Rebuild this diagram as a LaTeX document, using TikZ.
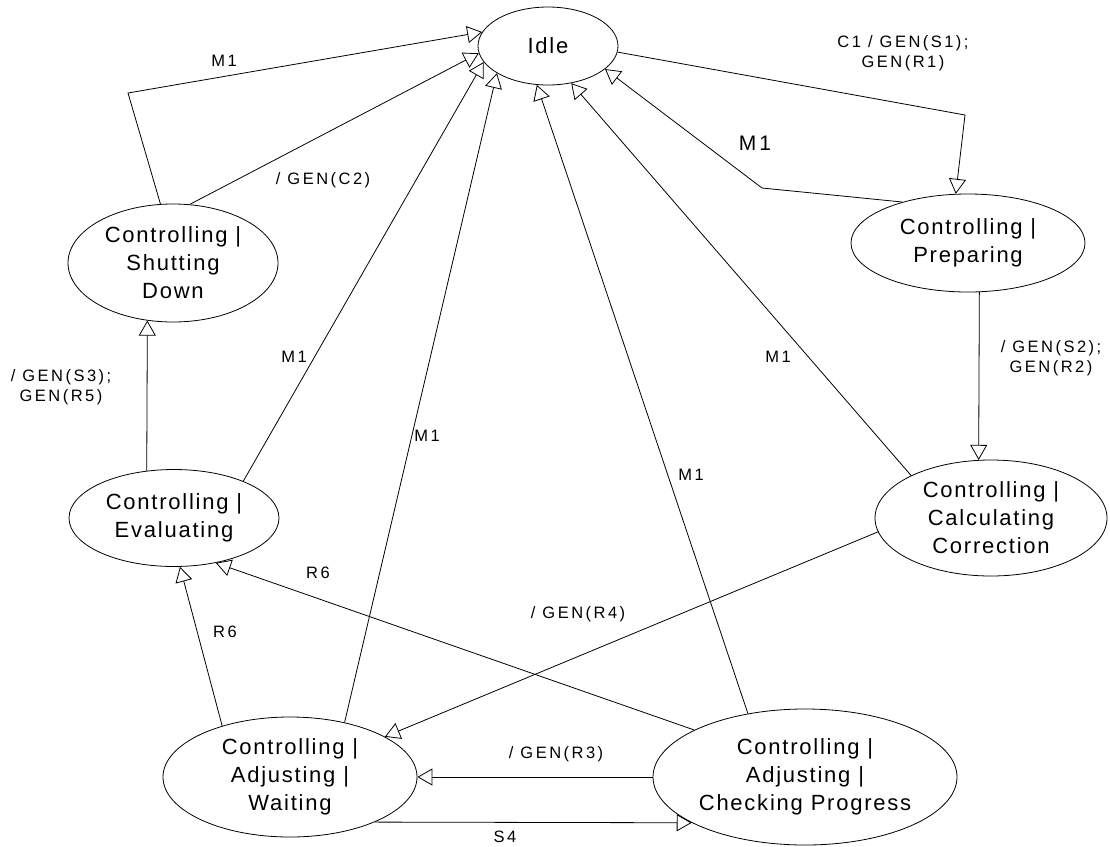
\documentclass[tikz,border=0pt]{standalone}
\usepackage{fontspec}
\setmainfont{Liberation Sans}
\newfontfamily\statefont[LetterSpace=8]{Liberation Sans}
\newfontfamily\labelfont[LetterSpace=15]{Liberation Sans}
\usetikzlibrary{arrows.meta,shapes.geometric}

\tikzset{
  state/.style={ellipse, draw, line width=0.8pt, inner xsep=-40pt, inner ysep=0pt,
    align=center, font=\statefont\fontsize{22}{28}\selectfont},
  trans/.style={draw, line width=0.8pt, -{Triangle[open, length=15pt, width=17pt]}},
  lbl/.style={inner sep=0pt, align=center, font=\labelfont\fontsize{16.5}{20}\selectfont},
  biglbl/.style={inner sep=0pt, font=\labelfont\fontsize{21}{25}\selectfont},
}

\begin{document}
\begin{tikzpicture}[x=1pt,y=-1pt]
\useasboundingbox (0,0) rectangle (1110,846);

% states
\node[state, minimum width=140pt, minimum height=78pt]  (idle)  at (548,46)  {Idle};
\node[state, minimum width=234pt, minimum height=98pt]  (prep)  at (968,243) {Controlling |\\Preparing};
\node[state, minimum width=232pt, minimum height=116pt] (calc)  at (991,518) {Controlling |\\Calculating\\Correction};
\node[state, minimum width=210pt, minimum height=118pt] (shut)  at (173,263) {Controlling |\\Shutting\\Down};
\node[state, minimum width=210pt, minimum height=97pt]  (eval)  at (174,518) {Controlling |\\Evaluating};
\node[state, minimum width=254pt, minimum height=120pt] (wait)  at (290,777) {Controlling |\\Adjusting |\\Waiting};
\node[state, minimum width=304pt, minimum height=136pt] (check) at (805,777) {Controlling |\\Adjusting |\\Checking Progress};

% bend points
\coordinate (b1) at (128,93);
\coordinate (b2) at (762,188);
\coordinate (b3) at (965,115);

% transitions
\draw[trans] (shut.102) -- (b1) -- (idle.168);
\draw[trans] (shut.74) -- (idle.186);
\draw[trans] (eval.28) -- (idle.194);
\draw[trans] (eval.120) -- (shut.246);
\draw[trans] (wait.45) -- (idle.208);
\draw[trans] (check.132) -- (idle.254);
\draw[trans] (calc.152) -- (idle.302);
\draw[trans] (prep.148) -- (b2) -- (idle.338);
\draw[trans] (idle.355) -- (b3) -- (prep.104);
\draw[trans] (prep.283) -- (calc.102);
\draw[trans] (calc.187) -- (wait.23);
\draw[trans] (check.157) -- (eval.313);
\draw[trans] (wait.143) -- (eval.277);
\draw[trans] (check.west) -- (wait.east);
\draw[trans] (wait.332) -- (check.202);

% transition labels
\node[lbl] (lm1a) at (224,61)   {M1};
\node[lbl] (lc2)  at (323,180)  {/ GEN(C2)};
\node[lbl] (lm1b) at (294,357)  {M1};
\node[lbl] (ls3)  at (61,387)   {/ GEN(S3);\\GEN(R5)};
\node[lbl] (lm1c) at (427,436)  {M1};
\node[lbl] (lm1d) at (691,475)  {M1};
\node[lbl] (lm1e) at (778,357)  {M1};
\node[biglbl] (lm1f) at (755,143) {M1};
\node[lbl] (lc1)  at (903,53)   {C1 / GEN(S1);\\GEN(R1)};
\node[lbl] (ls2)  at (1051,358) {/ GEN(S2);\\GEN(R2)};
\node[lbl] (lr4)  at (578,614)  {/ GEN(R4)};
\node[lbl] (lr6a) at (318,573)  {R6};
\node[lbl] (lr6b) at (225,632)  {R6};
\node[lbl] (lr3)  at (556,754)  {/ GEN(R3)};
\node[lbl] (ls4)  at (505,837)  {S4};
\end{tikzpicture}
\end{document}
